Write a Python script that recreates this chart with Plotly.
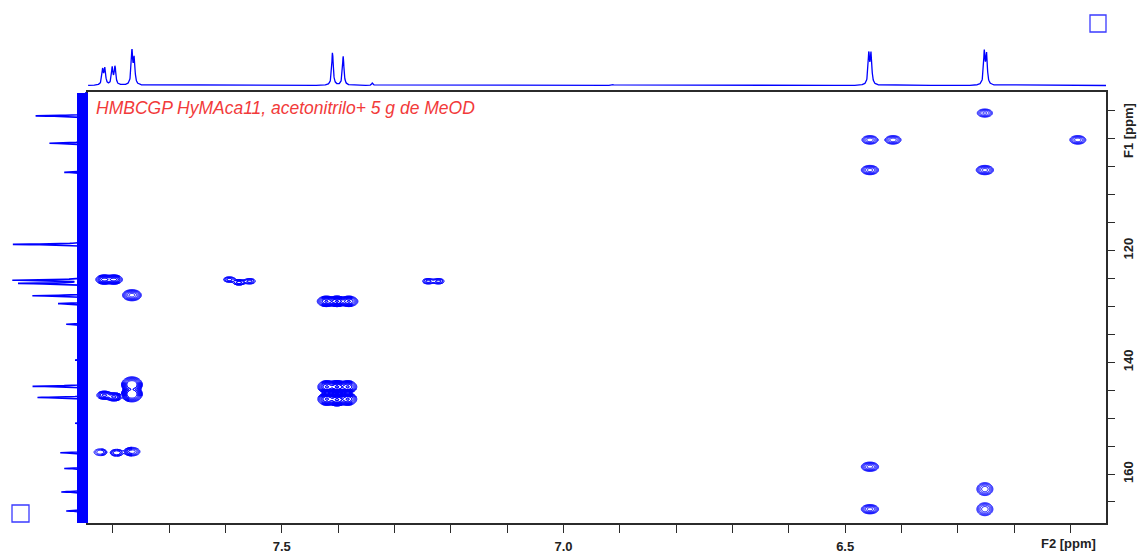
import numpy as np
import plotly.graph_objects as go

W, H = 1139, 556

# ---------------- spectrum data ----------------
title_text = "HMBCGP HyMAca11, acetonitrilo+ 5 g de MeOD"

# F2 (1H) projection: line positions (ppm) and heights (arb.)
f2_proj_ppm = [7.818, 7.814, 7.801, 7.796, 7.766, 7.762, 7.410, 7.391, 7.339, 6.912,
               6.458, 6.454, 6.253, 6.249]
f2_proj_height = [15, 16, 17, 18, 33, 25, 33, 29, 2.5, 0.8,
                  30, 30, 32, 29]

# F1 (13C) projection: line positions (ppm) and heights (arb.)
f1_proj_ppm = [95.9, 100.8, 106.0, 118.9, 125.3, 125.9, 128.1, 129.5, 133.2, 139.6,
               144.3, 146.3, 150.9, 156.2, 159.0, 163.2, 166.6]
f1_proj_height = [51, 37, 22, 74, 73, 67, 54, 28, 20, 11,
                  54, 49, 11, 26, 22, 25, 20]
f1_noise_level = 9

# HMBC cross peaks: F2 shift, F1 shift, intensity, F1 line width
cross_f2 = [6.252, 6.456, 6.415, 6.087, 6.456, 6.252,
            6.456, 6.252, 6.456, 6.252,
            7.815, 7.798, 7.766, 7.593, 7.576, 7.557,
            7.421, 7.402, 7.381, 7.240, 7.222,
            7.766, 7.766, 7.815, 7.798,
            7.420, 7.402, 7.383, 7.420, 7.402, 7.383,
            7.822, 7.793, 7.766]
cross_f1 = [95.4, 100.2, 100.2, 100.2, 105.6, 105.6,
            158.7, 162.7, 166.3, 166.3,
            125.2, 125.2, 128.0, 125.2, 125.7, 125.5,
            129.1, 129.1, 129.1, 125.5, 125.5,
            144.0, 145.7, 145.9, 146.2,
            144.4, 144.4, 144.4, 146.6, 146.7, 146.6,
            156.1, 156.2, 156.0]
cross_amp = [20, 28, 28, 28, 48, 48,
             48, 28, 48, 28,
             48, 48, 100, 5.5, 5.5, 5.5,
             72, 72, 72, 5.5, 5.5,
             260, 260, 20, 20,
             72, 72, 72, 72, 72, 72,
             8, 8, 28]
cross_lw_f1 = [0.3, 0.3, 0.3, 0.3, 0.3, 0.3,
               0.3, 0.45, 0.3, 0.45,
               0.3, 0.3, 0.33, 0.26, 0.26, 0.26,
               0.32, 0.32, 0.32, 0.26, 0.26,
               0.42, 0.42, 0.3, 0.3,
               0.38, 0.38, 0.38, 0.38, 0.38, 0.38,
               0.3, 0.3, 0.3]
cross_lw_f2 = 0.0055

f2_ticks = [7.5, 7.0, 6.5]
f1_ticks = [120, 140, 160]
f1_minor_ticks = list(range(95, 170, 5))

# visible window (ppm)
F2_LEFT, F2_RIGHT = 7.844, 6.037
F1_TOP, F1_BOTTOM = 91.63, 168.77

BLUE = "#0000ff"
AXIS = "#2b2b2b"


def fx(p):
    return p / W


def fy(p):
    return 1 - p / H


def lorentz(grid, centers, heights, gamma):
    out = np.zeros_like(grid)
    for c, h in zip(centers, heights):
        out += h / (1 + ((grid - c) / gamma) ** 2)
    return out


fig = go.Figure()

# ---- cross-peak contours (levels spaced by a factor of 2) ----
for cx, cy, sy in zip(cross_f2, cross_f1, cross_lw_f1):
    gx = np.linspace(cx - 5 * cross_lw_f2, cx + 5 * cross_lw_f2, 71)
    gy = np.linspace(cy - 5 * sy, cy + 5 * sy, 51)
    X, Y = np.meshgrid(gx, gy)
    inten = np.zeros_like(X)
    for a, px_, py_, s in zip(cross_amp, cross_f2, cross_f1, cross_lw_f1):
        inten += a * np.exp(-0.5 * ((X - px_) / cross_lw_f2) ** 2 - 0.5 * ((Y - py_) / s) ** 2)
    Z = np.round(np.log2(inten + 1e-9), 3)
    fig.add_trace(go.Contour(
        x=gx, y=gy, z=Z, xaxis="x", yaxis="y",
        contours=dict(start=0, end=6, size=1, coloring="lines"),
        line=dict(width=1),
        colorscale=[[0, BLUE], [1, BLUE]], showscale=False,
        hoverinfo="skip",
    ))

# ---- F2 projection ----
f2_grid = np.arange(F2_RIGHT, F2_LEFT, 0.0004)
f2_spec = lorentz(f2_grid, f2_proj_ppm, f2_proj_height, 0.0016)
fig.add_trace(go.Scatter(x=f2_grid, y=f2_spec, xaxis="x2", yaxis="y2",
                         mode="lines", line=dict(color=BLUE, width=1.3),
                         hoverinfo="skip"))

# ---- F1 projection ----
f1_grid = np.arange(F1_TOP, F1_BOTTOM, 0.02)
f1_spec = lorentz(f1_grid, f1_proj_ppm, f1_proj_height, 0.09)
fig.add_trace(go.Scatter(
    x=[-2, f1_noise_level, f1_noise_level, -2, -2],
    y=[F1_TOP + 0.2, F1_TOP + 0.2, F1_BOTTOM, F1_BOTTOM, F1_TOP + 0.2],
    xaxis="x3", yaxis="y3", mode="lines", fill="toself",
    fillcolor=BLUE, line=dict(color=BLUE, width=0), hoverinfo="skip"))
fig.add_trace(go.Scatter(x=f1_spec, y=f1_grid, xaxis="x3", yaxis="y3",
                         mode="lines", line=dict(color=BLUE, width=1.6),
                         hoverinfo="skip"))

tickfont = dict(family="Liberation Sans, Arial", size=13, color="#222", weight="bold")
main_x_dom = [fx(88), fx(1106)]
main_y_dom = [fy(523), fy(92)]

fig.update_layout(
    width=W, height=H,
    margin=dict(l=0, r=0, t=0, b=0),
    paper_bgcolor="white", plot_bgcolor="white",
    showlegend=False,
    xaxis=dict(
        domain=main_x_dom, range=[F2_LEFT, F2_RIGHT],
        tickmode="array", tickvals=f2_ticks, ticktext=[f"{v:.1f}" for v in f2_ticks],
        ticks="outside", ticklen=8, tickcolor=AXIS, tickwidth=1,
        minor=dict(tick0=0, dtick=0.1, ticks="outside", ticklen=8, tickcolor=AXIS, showgrid=False),
        showline=True, mirror=True, linecolor=AXIS, linewidth=1.5,
        showgrid=False, zeroline=False, tickfont=tickfont, ticklabelstandoff=3,
    ),
    yaxis=dict(
        domain=main_y_dom, range=[F1_BOTTOM, F1_TOP], side="right", anchor="x",
        tickmode="array", tickvals=f1_ticks, ticktext=[str(v) for v in f1_ticks],
        ticks="outside", ticklen=7, tickcolor=AXIS, tickwidth=1, tickangle=-90,
        minor=dict(tickmode="array", tickvals=f1_minor_ticks, ticks="outside",
                   ticklen=7, tickcolor=AXIS, showgrid=False),
        showline=True, mirror=True, linecolor=AXIS, linewidth=1.5,
        showgrid=False, zeroline=False, tickfont=tickfont, ticklabelstandoff=3,
    ),
    xaxis2=dict(domain=main_x_dom, matches="x", anchor="y2", visible=False),
    yaxis2=dict(domain=[fy(90), fy(40)], range=[-4.5, 45.5], anchor="x2", visible=False),
    xaxis3=dict(domain=[fx(0), fx(88)], range=[86, -2], anchor="y3", visible=False),
    yaxis3=dict(domain=main_y_dom, matches="y", anchor="x3", visible=False),
    annotations=[
        dict(text=title_text, xref="paper", yref="paper", x=fx(94), y=fy(108),
             xanchor="left", yanchor="middle", showarrow=False,
             font=dict(family="Liberation Sans, Arial", size=17.5, color="#f23a3a", style="italic")),
        dict(text="F2 [ppm]", xref="paper", yref="paper", x=fx(1068), y=fy(543),
             xanchor="center", yanchor="middle", showarrow=False, font=tickfont),
        dict(text="F1 [ppm]", xref="paper", yref="paper", x=fx(1128), y=fy(131),
             xanchor="center", yanchor="middle", showarrow=False, textangle=-90, font=tickfont),
    ],
    shapes=[
        dict(type="rect", xref="paper", yref="paper", x0=fx(1090), x1=fx(1106), y0=fy(32), y1=fy(15),
             line=dict(color="#3a3aff", width=1.3)),
        dict(type="rect", xref="paper", yref="paper", x0=fx(12), x1=fx(29), y0=fy(522), y1=fy(505),
             line=dict(color="#3a3aff", width=1.3)),
    ],
)

fig.write_html("out.html")
